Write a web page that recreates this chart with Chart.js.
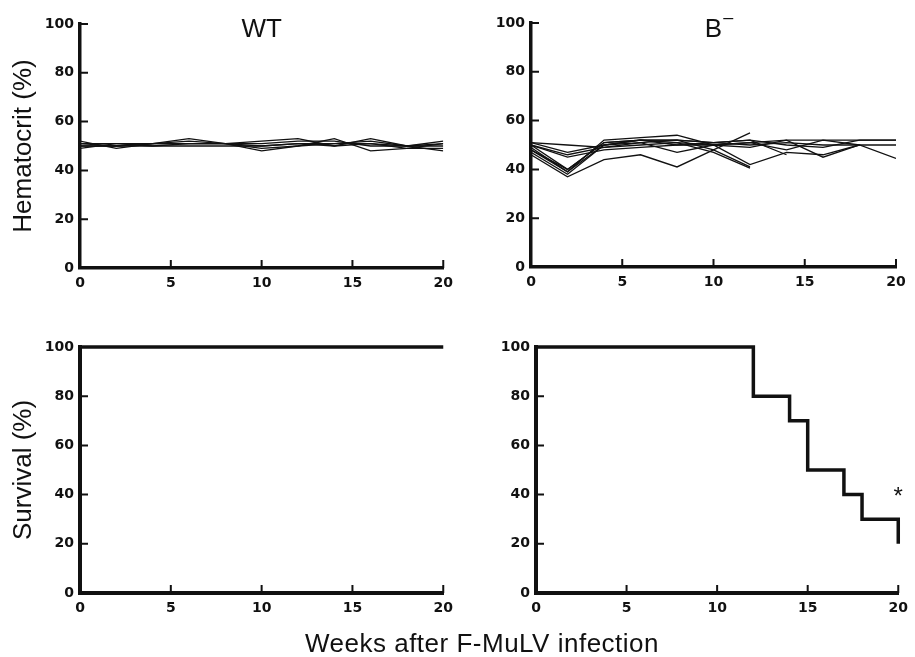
<!DOCTYPE html>
<html>
<head>
<meta charset="utf-8">
<script src="https://cdn.jsdelivr.net/npm/chart.js@4.4.1/dist/chart.umd.min.js"></script>
<style>
  body { margin: 0; background: #fff; }
  #wrap { position: relative; width: 915px; height: 657px; background: #fff; overflow: hidden; }
  canvas { position: absolute; }
  #xtitle {
    position: absolute; left: 282px; width: 400px; top: 630px;
    text-align: center; font: 26px "Liberation Sans", Arial, sans-serif;
    line-height: 26px; letter-spacing: 0.5px; color: #111;
  }
</style>
</head>
<body>
<div id="wrap">
  <canvas id="hctWT" width="460" height="300" style="left:0;top:0"></canvas>
  <canvas id="hctKO" width="455" height="300" style="left:460px;top:0"></canvas>
  <canvas id="survWT" width="460" height="357" style="left:0;top:300px"></canvas>
  <canvas id="survKO" width="455" height="357" style="left:460px;top:300px"></canvas>
  <div id="xtitle">Weeks after F-MuLV infection</div>
</div>
<script>
// measurement weeks for hematocrit
const weeks = [0, 2, 4, 6, 8, 10, 12, 14, 16, 18, 20];

// WT hematocrit (%), one row per mouse
const wtHematocrit = [
  [51, 50, 51, 52, 51, 52, 53, 50, 53, 50, 52],
  [49, 51, 51, 51, 51, 48, 50, 53, 48, 49, 51],
  [52, 49, 51, 53, 51, 49, 50, 51, 52, 50, 48],
  [50, 50, 50, 51, 51, 51, 52, 52, 50, 50, 50],
  [51, 51, 50, 50, 50, 50, 51, 51, 51, 49, 49],
  [50, 50, 51, 51, 51, 50, 51, 50, 51, 50, 51]
];

// B- hematocrit (%), null after the mouse died
const koHematocrit = [
  [51, 50, 49, 50, 51, 50, 51, 52, 52, 52, 52],
  [50, 46, 49, 51, 52, 51, 50, 51, 50, 50, 50],
  [49, 39, 52, 53, 54, 50, 49, 52, 45, 50, 44.5],
  [48, 40, 51, 52, 52, 48, 41, null, null, null, null],
  [47, 38, 50, 52, 51, 47, 40.5, null, null, null, null],
  [46, 37, 44, 46, 41, 48, 55, null, null, null, null],
  [50, 45, 48, 49, 50, 51, 52, 46, null, null, null],
  [51, 47, 50, 52, 52, 51, 52, 50, 49, 52, 52],
  [50, 40, 51, 52, 50, 50, 42, 47, 46, 50, null],
  [48, 39, 50, 51, 47, 50, 51, 48, 52, 50, null]
];

// survival (%)
const survWeeksWT = [0, 20];
const survivalWT = [100, 100];
const survWeeksKO = [0, 12, 14, 15, 17, 18, 20];
const survivalKO = [100, 80, 70, 50, 40, 30, 20];

const xTicks = [0, 5, 10, 15, 20];
const yTicks = [0, 20, 40, 60, 80, 100];

const ink = '#111';
const tickFont = { family: '"DejaVu Sans", sans-serif', size: 14, weight: 'bold' };

// ticks that point into the plot area
const innerTicks = {
  id: 'innerTicks',
  afterDraw(chart) {
    const { ctx, chartArea, scales } = chart;
    ctx.save();
    ctx.strokeStyle = ink;
    ctx.lineWidth = 2;
    ctx.beginPath();
    xTicks.forEach(v => {
      if (v === 0) return;
      const px = scales.x.getPixelForValue(v);
      ctx.moveTo(px, chartArea.bottom);
      ctx.lineTo(px, chartArea.bottom - 8);
    });
    yTicks.forEach(v => {
      if (v === 0) return;
      const py = scales.y.getPixelForValue(v);
      ctx.moveTo(chartArea.left, py);
      ctx.lineTo(chartArea.left + 8, py);
    });
    ctx.stroke();
    ctx.restore();
  }
};

// panel heading (WT / B-) and the asterisk
const panelText = {
  id: 'panelText',
  afterDraw(chart, args, opts) {
    const { ctx, chartArea, scales } = chart;
    ctx.save();
    ctx.fillStyle = ink;
    ctx.textBaseline = 'alphabetic';
    if (opts.label) {
      ctx.font = '26px "Liberation Sans", Arial, sans-serif';
      ctx.textAlign = 'center';
      const cx = (chartArea.left + chartArea.right) / 2;
      ctx.fillText(opts.label, cx, 37);
      if (opts.sup) {
        const w = ctx.measureText(opts.label).width;
        ctx.font = '18px "Liberation Sans", Arial, sans-serif';
        ctx.textAlign = 'left';
        ctx.fillText(opts.sup, cx + w / 2 + 1, 23);
      }
    }
    if (opts.star) {
      ctx.font = '24px "Liberation Sans", Arial, sans-serif';
      ctx.textAlign = 'center';
      ctx.fillText('*', scales.x.getPixelForValue(opts.star[0]), scales.y.getPixelForValue(opts.star[1]));
    }
    ctx.restore();
  }
};

function makeScales(yWidth, xHeight, yTitle, borderW) {
  return {
    x: {
      type: 'linear', min: 0, max: 20,
      afterBuildTicks: s => { s.ticks = xTicks.map(v => ({ value: v })); },
      afterFit: s => { s.height = xHeight; },
      grid: { display: false, drawTicks: false },
      border: { display: true, color: ink, width: borderW },
      ticks: { color: ink, font: tickFont, padding: 7, maxRotation: 0 }
    },
    y: {
      min: 0, max: 100,
      afterBuildTicks: s => { s.ticks = yTicks.map(v => ({ value: v })); },
      afterFit: s => { s.width = yWidth; },
      grid: { display: false, drawTicks: false },
      border: { display: true, color: ink, width: borderW },
      ticks: { color: ink, font: tickFont, padding: 6 },
      title: {
        display: !!yTitle, text: yTitle || '', color: ink,
        font: { family: '"Liberation Sans", Arial, sans-serif', size: 26 },
        padding: { top: 8, bottom: 0 }
      }
    }
  };
}

function toPoints(xs, ys) {
  return xs.map((x, i) => ({ x: x, y: ys[i] }));
}

function makeChart(id, datasets, pad, yWidth, xHeight, yTitle, borderW, textOpts) {
  return new Chart(id, {
    type: 'line',
    data: { datasets: datasets },
    options: {
      responsive: false,
      animation: false,
      layout: { padding: pad },
      scales: makeScales(yWidth, xHeight, yTitle, borderW),
      plugins: {
        legend: { display: false },
        tooltip: { enabled: false },
        panelText: textOpts
      }
    },
    plugins: [innerTicks, panelText]
  });
}

function hctSets(rows) {
  return rows.map(r => ({
    data: toPoints(weeks, r),
    borderColor: ink, borderWidth: 1.3, pointRadius: 0, tension: 0, spanGaps: false
  }));
}

function survSet(xs, ys) {
  return [{
    data: toPoints(xs, ys),
    borderColor: ink, borderWidth: 3.5, pointRadius: 0, stepped: 'before', clip: false
  }];
}

makeChart('hctWT', hctSets(wtHematocrit), { top: 24, right: 14 }, 80, 32, 'Hematocrit (%)', 3.5, { label: 'WT' });
makeChart('hctKO', hctSets(koHematocrit), { top: 23, right: 19 }, 71, 33, null, 3.5, { label: 'B', sup: '\u2013' });
makeChart('survWT', survSet(survWeeksWT, survivalWT), { top: 47, right: 13 }, 80, 64, 'Survival (%)', 4, {});
makeChart('survKO', survSet(survWeeksKO, survivalKO), { top: 47, right: 13 }, 76, 64, null, 4, { star: [20, 36] });
</script>
</body>
</html>
